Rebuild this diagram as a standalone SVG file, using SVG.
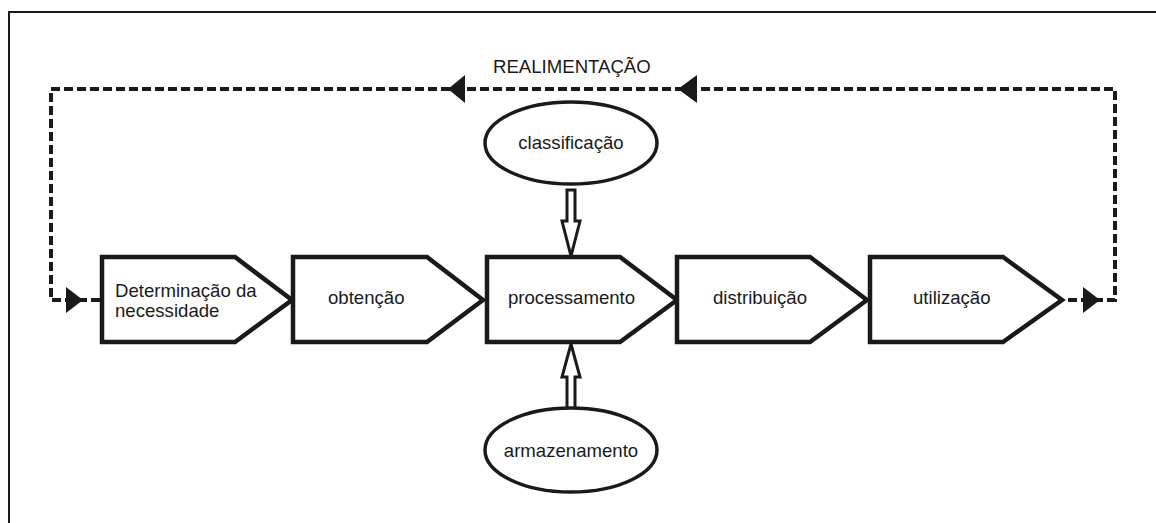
<svg xmlns="http://www.w3.org/2000/svg" width="1156" height="523" viewBox="0 0 1156 523">
<style>
.box{fill:#fff;stroke:#1a1a1a;stroke-width:4.5;stroke-linejoin:miter}
.ell{fill:#fff;stroke:#1a1a1a;stroke-width:3.5}
.t{font-family:"Liberation Sans",Arial,sans-serif;font-size:18.6px;fill:#1a1a1a}
.dash{fill:none;stroke:#1a1a1a;stroke-width:4;stroke-dasharray:9 4}
.head{fill:#1a1a1a}
.hollow{fill:#fff;stroke:#1a1a1a;stroke-width:3;stroke-linejoin:miter}
</style>
<rect width="1156" height="523" fill="#fff"/>
<path d="M9 523 V12 H1156" fill="none" stroke="#1a1a1a" stroke-width="2"/>
<g id="connectors">
<path class="dash" d="M100 300 H51 V89 H1115 V300 H1065"/>
<polygon class="head" points="448,89 465,75 465,103"/>
<polygon class="head" points="678,89 697,75 697,103"/>
<polygon class="head" points="83,300 66,287 66,313"/>
<polygon class="head" points="1100,300 1083,287 1083,313"/>
<polygon class="hollow" points="567,190 575,190 575,221 580,221 571,256 562,221 567,221"/>
<polygon class="hollow" points="567,410 575,410 575,377 580,377 571,344 562,377 567,377"/>
</g>
<text class="t" x="493" y="73">REALIMENTAÇÃO</text>
<g id="n1">
<polygon class="box" points="102,257 235,257 292,300 235,342 102,342"/>
<text class="t" x="115" y="297">Determinação da</text>
<text class="t" x="115" y="317">necessidade</text>
</g>
<g id="n2">
<polygon class="box" points="293,257 427,257 483,300 427,342 293,342"/>
<text class="t" x="328" y="304">obtenção</text>
</g>
<g id="n3">
<polygon class="box" points="487,257 620,257 677,300 620,342 487,342"/>
<text class="t" x="508" y="304">processamento</text>
</g>
<g id="n4">
<polygon class="box" points="677,257 810,257 867,300 810,342 677,342"/>
<text class="t" x="713" y="304">distribuição</text>
</g>
<g id="n5">
<polygon class="box" points="870,257 1003,257 1062,300 1003,342 870,342"/>
<text class="t" x="913" y="304">utilização</text>
</g>
<g id="n6">
<ellipse class="ell" cx="571" cy="143" rx="86" ry="41"/>
<text class="t" x="571" y="149" text-anchor="middle">classificação</text>
</g>
<g id="n7">
<ellipse class="ell" cx="571" cy="450" rx="86" ry="42"/>
<text class="t" x="571" y="457" text-anchor="middle">armazenamento</text>
</g>
</svg>
